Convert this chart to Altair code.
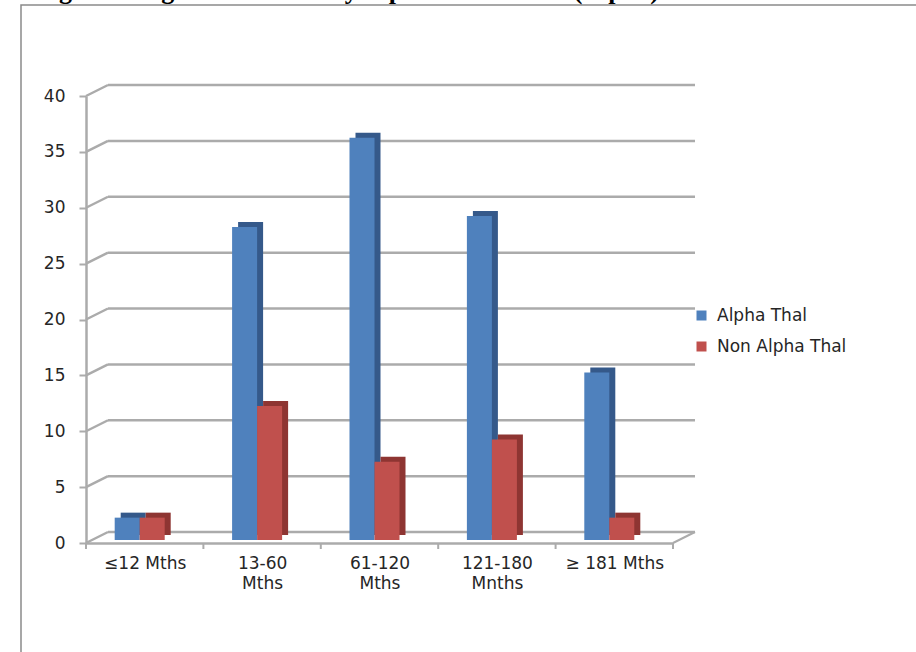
import altair as alt
import pandas as pd

categories = ["≤12 Mths", "13-60|Mths", "61-120|Mths", "121-180|Mnths", "≥ 181 Mths"]
series = ["Alpha Thal", "Non Alpha Thal"]
alpha_thal = [2, 28, 36, 29, 15]
non_alpha_thal = [2, 12, 7, 9, 2]
y_ticks = [0, 5, 10, 15, 20, 25, 30, 35, 40]
caption = "Figure 1: Age distribution by Alpha thalassemia (Alpha) status"

front_colors = ["#4F81BD", "#C0504D"]
side_colors = ["#35598A", "#8E3532"]
grid_color = "#ababab"

BW = 0.213  # bar width in category units

rows = []
for i, cat in enumerate(categories):
    for j, (s, vals) in enumerate(zip(series, [alpha_thal, non_alpha_thal])):
        x0 = i + 0.5 + (j - 1) * BW
        rows.append({"cat": cat, "series": s, "value": vals[i], "x0": x0, "x1": x0 + BW})
bars = pd.DataFrame(rows)
grid = pd.DataFrame({"v": y_ticks})
bounds = pd.DataFrame({"b": list(range(len(categories) + 1))})

xs = alt.Scale(domain=[0, 5], nice=False, zero=False)
ys = alt.Scale(domain=[0, 40], nice=False)

DX, DY = 22, -11

cat_expr = "[" + ",".join("split('" + c + "','|')" for c in categories) + "]"

x_axis = alt.Axis(
    values=[0.5, 1.5, 2.5, 3.5, 4.5], ticks=False, grid=False,
    labelExpr=cat_expr + "[floor(datum.value)]",
    labelPadding=12, labelLineHeight=20, labelBaseline="top",
    domainColor=grid_color, domainWidth=2.5, title=None,
)
y_axis = alt.Axis(
    values=y_ticks, grid=False, tickSize=7, tickWidth=2, tickColor=grid_color,
    domainColor=grid_color, domainWidth=2.5, labelPadding=14, title=None,
)

frame = alt.Chart(pd.DataFrame({"a": [0]})).mark_rect(
    fillOpacity=0, stroke="#8a8a8a", strokeWidth=1.5
).encode(
    x=alt.value(21 - 86), x2=alt.value(916 - 86 + 20),
    y=alt.value(5 - 96), y2=alt.value(652 - 96 + 20),
)

cap = alt.Chart(pd.DataFrame({"t": [caption]})).mark_text(
    font="Liberation Serif", fontWeight="bold", fontSize=26, align="left",
    baseline="alphabetic", color="#000"
).encode(x=alt.value(36 - 86), y=alt.value(-1 - 96), text="t:N")

back_grid = alt.Chart(grid).mark_rule(
    color=grid_color, strokeWidth=2.5, xOffset=DX, x2Offset=DX, yOffset=DY, y2Offset=DY
).encode(
    x=alt.datum(0, scale=xs, axis=x_axis), x2=alt.datum(5),
    y=alt.Y("v:Q", scale=ys, axis=y_axis, title=None),
)

diag = alt.Chart(grid).mark_rule(
    color=grid_color, strokeWidth=2.5, x2Offset=DX, y2Offset=DY
).encode(
    x=alt.datum(0, scale=xs), x2=alt.datum(0),
    y=alt.Y("v:Q", scale=ys, title=None), y2=alt.Y2("v:Q"),
)

floor_right = alt.Chart(pd.DataFrame({"a": [0]})).mark_rule(
    color=grid_color, strokeWidth=2, x2Offset=DX, y2Offset=DY
).encode(
    x=alt.datum(5, scale=xs), x2=alt.datum(5),
    y=alt.datum(0, scale=ys), y2=alt.datum(0),
)

tick_marks = alt.Chart(bounds).mark_rule(
    color=grid_color, strokeWidth=2, y2Offset=6
).encode(
    x=alt.X("b:Q", scale=xs, title=None),
    y=alt.datum(0, scale=ys), y2=alt.datum(0),
)

side = alt.Chart(bars).mark_bar(
    xOffset=-5 + 6, x2Offset=-5 + 6, yOffset=-3 - 5, y2Offset=-3 - 5
).encode(
    x=alt.X("x0:Q", scale=xs, title=None), x2="x1:Q",
    y=alt.Y("value:Q", scale=ys, title=None), y2=alt.datum(0),
    color=alt.Color("series:N", scale=alt.Scale(domain=series, range=side_colors), legend=None),
)

front = alt.Chart(bars).mark_bar(
    xOffset=-5, x2Offset=-5, yOffset=-3, y2Offset=-3
).encode(
    x=alt.X("x0:Q", scale=xs, title=None),
    x2="x1:Q",
    y=alt.Y("value:Q", scale=ys, title=None),
    y2=alt.datum(0),
    color=alt.Color(
        "series:N", scale=alt.Scale(domain=series, range=front_colors),
        legend=alt.Legend(
            title=None, orient="none", legendX=607, legendY=211,
            symbolType="square", symbolSize=100, symbolStrokeWidth=0,
            labelFontSize=17, labelColor="#262626", labelFont="DejaVu Sans",
            rowPadding=13, labelOffset=7, padding=0,
        ),
    ),
)

chart = alt.layer(
    frame, cap, back_grid, diag, floor_right, tick_marks, side, front
).resolve_scale(color="independent").properties(
    width=587, height=447,
    autosize=alt.AutoSizeParams(type="none"),
    padding={"left": 86, "top": 96, "right": 243, "bottom": 109},
    background="white",
).configure_view(stroke=None).configure_axis(
    labelFont="DejaVu Sans", labelFontSize=17, labelColor="#262626"
)

chart.save("out.html", embed_options={"renderer": "svg", "actions": False})
